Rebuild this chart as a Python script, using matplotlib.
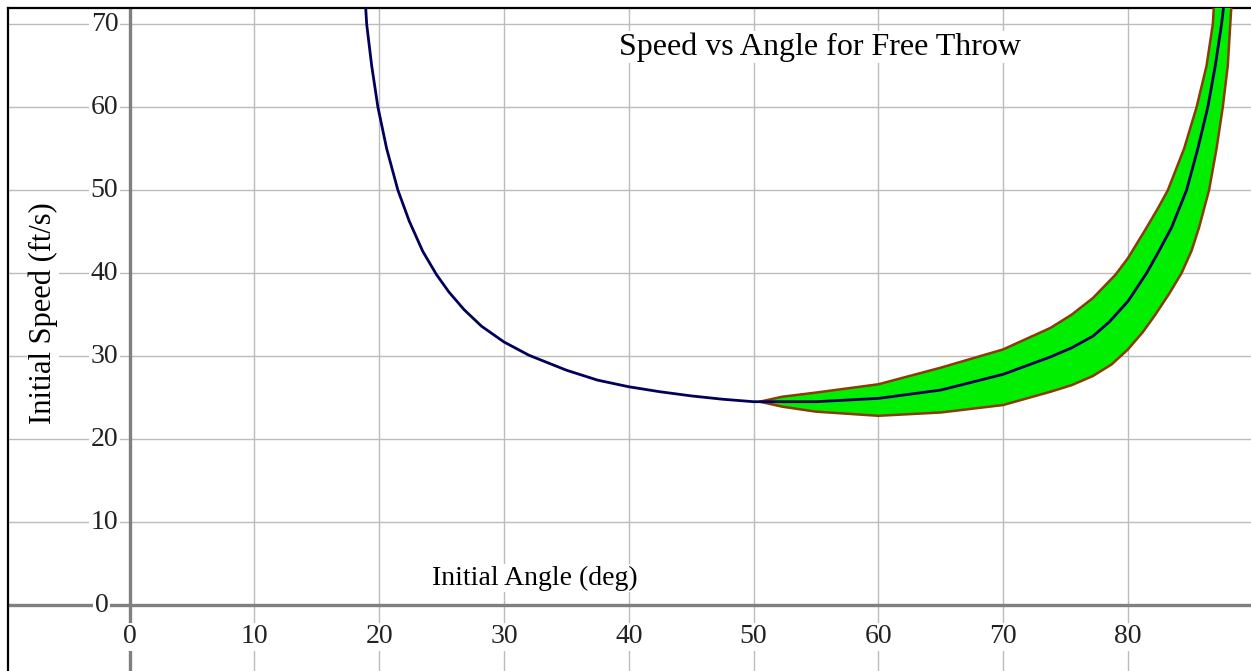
import numpy as np
import matplotlib
matplotlib.use("Agg")
import matplotlib.pyplot as plt

plt.rcParams["font.family"] = ["Liberation Serif", "DejaVu Serif"]

# speed curve for the nominal shot (angle in deg, speed in ft/s)
angle = [18.9, 19.0, 19.4, 19.9, 20.6, 21.5, 22.4, 23.5, 24.6, 25.6, 26.8, 28.2,
         30.0, 32.0, 35.0, 37.5, 40.0, 42.5, 45.0, 47.5, 50.0, 55.0, 60.0, 65.0,
         70.0, 73.8, 75.5, 77.2, 78.5, 80.0, 81.5, 82.5, 83.5, 84.7, 85.6, 86.4,
         87.0, 87.5, 87.7]
speed = [72.5, 70.0, 65.0, 60.0, 55.0, 50.0, 46.3, 42.6, 39.8, 37.7, 35.6, 33.6,
         31.7, 30.1, 28.3, 27.1, 26.3, 25.7, 25.2, 24.8, 24.5, 24.5, 24.9, 25.9,
         27.8, 29.9, 31.0, 32.4, 34.1, 36.6, 40.0, 42.7, 45.5, 50.0, 55.0, 60.0,
         65.0, 70.0, 72.5]

# band of speeds that still go in
upper_angle = [50.5, 52.3, 55.0, 60.0, 65.0, 70.0, 73.8, 75.5, 77.2, 79.0,
               80.0, 81.5, 82.4, 83.2, 84.5, 85.5, 86.3, 86.8, 86.9]
upper_speed = [24.5, 25.1, 25.6, 26.6, 28.6, 30.8, 33.4, 35.0, 37.0, 39.8,
               41.8, 45.5, 47.8, 50.0, 55.0, 60.0, 65.0, 70.0, 72.5]
lower_angle = [50.5, 52.3, 55.0, 60.0, 65.0, 70.0, 73.8, 75.5, 77.2, 78.7,
               80.0, 81.2, 82.2, 83.3, 84.3, 85.1, 85.7, 86.5, 87.1, 87.6,
               88.0, 88.2, 88.3]
lower_speed = [24.5, 23.9, 23.3, 22.8, 23.2, 24.1, 25.7, 26.5, 27.6, 29.0,
               30.8, 32.9, 35.0, 37.5, 40.0, 42.7, 45.5, 50.0, 55.0, 60.0,
               65.0, 70.0, 72.5]

xticks = [0, 10, 20, 30, 40, 50, 60, 70, 80]
yticks = [0, 10, 20, 30, 40, 50, 60, 70]

W, H = 1251, 671
fig = plt.figure(figsize=(W / 100, H / 100), dpi=100)
ax = fig.add_axes([7.5 / W, 0, 1 - 7.5 / W, 1 - 7.5 / H])
ax.set_xlim(-9.78, 89.86)
ax.set_ylim(-7.95, 72.0)
ax.set_xticks([])
ax.set_yticks([])
for s in ["right", "bottom"]:
    ax.spines[s].set_visible(False)
for s in ["left", "top"]:
    ax.spines[s].set_linewidth(1.6)
    ax.spines[s].set_color("black")

for x in xticks[1:]:
    ax.axvline(x, color="#bcbcbc", lw=1.0, zorder=0)
for y in yticks[1:]:
    ax.axhline(y, color="#bcbcbc", lw=1.0, zorder=0)
ax.axvline(0, color="#808080", lw=2.4, zorder=1)
ax.axhline(0, color="#808080", lw=2.4, zorder=1)

box = dict(facecolor="white", edgecolor="none", pad=1.0)
for x in xticks:
    ax.text(x, -3.85, str(x), ha="center", va="center", fontsize=20,
            color="#222222", bbox=box, zorder=3)
for y in yticks:
    xx = -1.7 if y == 0 else -0.9
    ax.text(xx, y, str(y), ha="right", va="center", fontsize=20,
            color="#222222", bbox=box, zorder=3)

band_x = np.concatenate([upper_angle, lower_angle[::-1]])
band_y = np.concatenate([upper_speed, lower_speed[::-1]])
ax.fill(band_x, band_y, facecolor="#00ee00", edgecolor="#8b3a0a", lw=1.8,
        joinstyle="round", zorder=4)
ax.plot(angle, speed, color="#00005a", lw=2.0, solid_joinstyle="round", zorder=5)

ax.text(55.3, 67.2, "Speed vs Angle for Free Throw", ha="center", va="center",
        fontsize=23, bbox=box, zorder=3)
ax.text(32.5, 3.25, "Initial Angle (deg)", ha="center", va="center",
        fontsize=20, bbox=box, zorder=3)
ax.text(-6.93, 35.2, "Initial Speed (ft/s)", ha="center", va="center",
        rotation=90, fontsize=22, bbox=box, zorder=3)

fig.savefig("out.png", dpi=100)
